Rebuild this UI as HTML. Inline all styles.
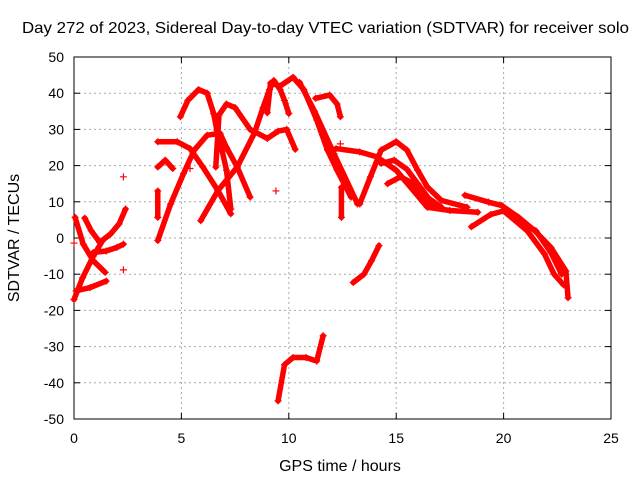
<!DOCTYPE html>
<html><head><meta charset="utf-8"><style>
body{margin:0;background:#fff;}
svg{display:block;font-family:"Liberation Sans",Arial,sans-serif;}
</style></head><body>
<svg id="chart" width="640" height="480" viewBox="0 0 640 480">
<text x="22" y="33" font-size="16" textLength="607" lengthAdjust="spacingAndGlyphs">Day 272 of 2023, Sidereal Day-to-day VTEC variation (SDTVAR) for receiver solo</text>
<g id="grid"></g>
<g id="axes"></g>
<g id="series"></g>
<text x="340" y="471" font-size="16" text-anchor="middle">GPS time / hours</text>
<text transform="translate(19,238) rotate(-90)" font-size="16" text-anchor="middle">SDTVAR / TECUs</text>
</svg>
<script>
const xTicks=[0,5,10,15,20,25];
const yTicks=[-50,-40,-30,-20,-10,0,10,20,30,40,50];
const traces=[
[[0.05,5.7],[0.43,-1.7],[0.9,-6.3],[1.45,-9.5]],
[[0.1,-14.6],[0.75,-13.7],[1.5,-11.9]],
[[0,-17],[0.4,-11],[0.9,-5],[1.3,-1]],
[[0.5,5.5],[0.8,2],[1.2,-1.2]],
[[0.9,-4],[1.5,-3.6],[2,-2.6],[2.3,-1.7]],
[[1.2,-1.2],[1.7,1.1],[2.1,3.9],[2.4,8]],
[[3.9,-0.7],[4.5,9.4],[5.1,17.8],[5.6,24.3],[6.2,28.4],[6.8,28.9],[7.1,25],[7.6,19.6],[8.2,11.3]],
[[3.9,19.6],[4.25,21.5],[4.6,19.2]],
[[3.9,13],[3.9,5.7]],
[[3.9,26.6],[4.8,26.6],[5.4,24.7],[6,19.6],[6.7,13.1],[7.3,6.7]],
[[4.95,33.5],[5.3,38],[5.8,41],[6.2,40],[6.5,34.4],[6.65,29.8],[6.9,24],[7.1,18.7],[7.3,8]],
[[5.9,4.8],[6.7,13.1],[7.6,19.6],[8.4,29],[8.8,36],[9.1,41],[9.3,43.5],[9.6,41],[9.8,38],[10,34.4]],
[[6.6,19.6],[6.75,34],[7.1,37],[7.5,36],[8.2,30],[9,27.5],[9.5,29.5],[9.9,30],[10.3,24.5]],
[[9,34.6],[9.15,42.8],[9.6,42],[10.2,44.4],[10.7,41],[11.3,32.6],[11.8,24.3],[12.25,18.7],[12.9,11.3]],
[[10.5,43],[11.2,35],[12.1,23.3],[13.2,9.4]],
[[11.25,38.6],[11.9,39.5],[12.25,37],[12.4,33.5]],
[[12.2,24.7],[13.3,23.8],[14.1,22.4],[15,18.7],[15.8,13.1],[16.45,8.5],[17.5,7.6],[18.8,7.1]],
[[13.3,9.4],[13.8,16.9],[14.3,24.3],[15,26.6],[15.5,24.3],[16,18.7],[16.45,14.1],[17.1,10.4],[18.3,8.5]],
[[14.3,20.6],[14.9,21.5],[15.5,19],[16,15],[16.5,11],[17.1,8.5]],
[[14.6,15],[15.2,16.9],[15.8,15],[16.3,10.4],[17.1,8.5]],
[[18.2,11.8],[19.3,9.9],[19.9,9],[20.7,5.7],[21.45,2],[22.2,-2.6],[22.9,-9.1],[23,-16.5]],
[[18.5,3.1],[19.4,6.5],[20,7.5],[21.1,2],[21.9,-4.4],[22.35,-10],[22.8,-13]],
[[21.5,2],[22.2,-4],[22.7,-10]],
[[9.5,-45],[9.8,-35],[10.2,-33],[10.8,-33],[11.3,-34],[11.6,-27]],
[[13,-12.3],[13.5,-10],[13.85,-6.3],[14.2,-2.1]],
[[12.45,14],[12.45,5.7]]
];
const isolated=[[2.3,16.9],[2.3,-8.8],[9.4,13],[0,-1.4],[5.4,19.2],[12.4,26]];
const X0=74,X1=611,Y0=419,Y1=57;
const sx=v=>X0+(v-0)/25*(X1-X0);
const sy=v=>Y0-(v+50)/100*(Y0-Y1);
const NS="http://www.w3.org/2000/svg";
const grid=document.getElementById('grid'),axes=document.getElementById('axes'),ser=document.getElementById('series');
function mk(tag,attrs,parent){const e=document.createElementNS(NS,tag);for(const k in attrs)e.setAttribute(k,attrs[k]);parent.appendChild(e);return e;}
xTicks.forEach(t=>{
 if(t>0&&t<25){const l=mk('line',{x1:sx(t),x2:sx(t),y1:Y0,y2:Y1,stroke:'#aaa','stroke-dasharray':'2,3','stroke-width':1},grid);
 
 }
 mk('line',{x1:sx(t),x2:sx(t),y1:Y0,y2:Y0-6,stroke:'#000'},axes);
 mk('line',{x1:sx(t),x2:sx(t),y1:Y1,y2:Y1+6,stroke:'#000'},axes);
 const tx=mk('text',{x:sx(t),y:Y0+24,'font-size':14,'text-anchor':'middle'},axes);tx.textContent=t;
 
 
});
yTicks.forEach(t=>{
 if(t>-50&&t<50){const l=mk('line',{x1:X0,x2:X1,y1:sy(t),y2:sy(t),stroke:'#aaa','stroke-dasharray':'2,3','stroke-width':1},grid);
 
 }
 mk('line',{x1:X0,x2:X0+6,y1:sy(t),y2:sy(t),stroke:'#000'},axes);
 mk('line',{x1:X1,x2:X1-6,y1:sy(t),y2:sy(t),stroke:'#000'},axes);
 const tx=mk('text',{x:X0-10,y:sy(t)+5,'font-size':14,'text-anchor':'end'},axes);tx.textContent=t;
 
 
});
const fr=mk('rect',{x:X0,y:Y1,width:X1-X0,height:Y0-Y1,fill:'none',stroke:'#000'},axes);


function plus(x,y){const p=mk('path',{d:`M${x-3.5},${y}h7M${x},${y-3.5}v7`,stroke:'#f00','stroke-width':1.2},ser);
 
 }
traces.forEach(tr=>{
 const pl=mk('polyline',{points:tr.map(p=>sx(p[0])+','+sy(p[1])).join(' '),fill:'none',stroke:'#f00','stroke-width':5.5,'stroke-linejoin':'round','stroke-linecap':'round'},ser);
 
 
 tr.forEach(p=>plus(sx(p[0]),sy(p[1])));
});
isolated.forEach(p=>plus(sx(p[0]),sy(p[1])));
</script>
</body></html>
